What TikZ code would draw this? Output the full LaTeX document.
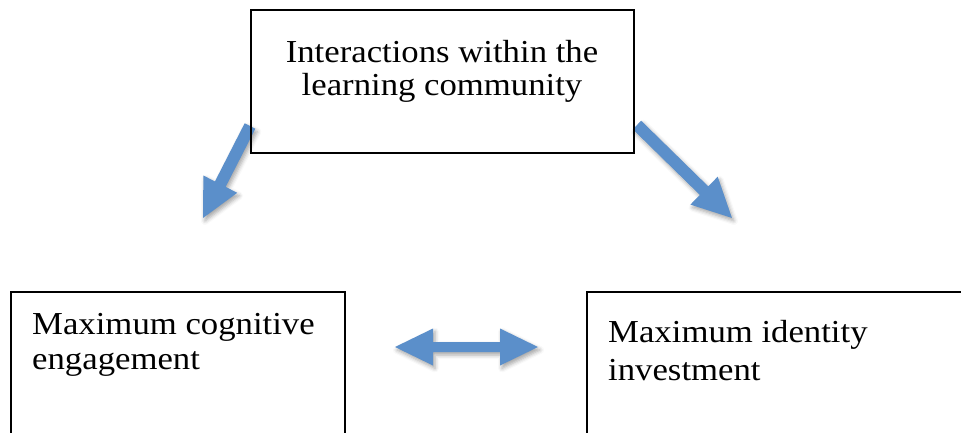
\documentclass[tikz,border=0pt]{standalone}
\usepackage{fontspec}
\setmainfont[FakeStretch=1.085]{Liberation Serif}
\usetikzlibrary{calc,shadows.blur}
\definecolor{arrowblue}{RGB}{91,143,202}
\tikzset{
  box/.style={draw=black, line width=1.3pt},
  lbl/.style={inner sep=0pt, font=\fontsize{32}{33}\selectfont},
  barrow/.style={fill=arrowblue, blur shadow={shadow xshift=2pt, shadow yshift=-3pt, shadow blur radius=4pt, shadow opacity=35}},
}
\newcommand\blockarrow[5]{%
  \path let \p1=($(#2)-(#1)$), \n1={veclen(\x1,\y1)}, \n2={atan2(\y1,\x1)} in
    \pgfextra{\xdef\arrlen{\n1}\xdef\arrang{\n2}};
  \fill[barrow, shift={(#1)}, rotate=\arrang]
    (0pt,-#3) -- (\arrlen-#4,-#3) -- (\arrlen-#4,-#5) -- (\arrlen,0pt)
    -- (\arrlen-#4,#5) -- (\arrlen-#4,#3) -- (0pt,#3) -- cycle;
}
\begin{document}
\begin{tikzpicture}[x=1pt,y=-1pt]
\useasboundingbox (0,0) rectangle (961,432);
\clip (0,0) rectangle (961,432);
% arrow end points
\coordinate (a1s) at (250,126);
\coordinate (a1e) at (203,218);
\coordinate (a2s) at (637,125);
\coordinate (a2e) at (732,218);
\coordinate (a3s) at (395,347);
\coordinate (a3e) at (538,347);
\blockarrow{a1s}{a1e}{6pt}{38pt}{19pt}
\blockarrow{a2s}{a2e}{6pt}{39pt}{19.5pt}
\fill[barrow] (a3s) -- ++(38,-18.5) -- ++(0,13.5) -- ($(a3e)+(-38,-5)$) -- ++(0,-13.5)
  -- (a3e) -- ++(-38,18.5) -- ++(0,-13.5) -- ($(a3s)+(38,5)$) -- ++(0,13.5) -- cycle;
% boxes
\draw[box] (251,10) rectangle (634,153);
\node[inner sep=0pt] (topbox) at (442.5,81.5) {};
\draw[box] (11,292) rectangle (345,445);
\node[inner sep=0pt] (leftbox) at (178,370) {};
\draw[box] (587,292) rectangle (975,445);
\node[inner sep=0pt] (rightbox) at (780,370) {};
% texts
\node[lbl, anchor=base] (t1) at (442,62) {Interactions within the};
\node[lbl, anchor=base] (t2) at (442,95) {learning community};
\node[lbl, anchor=base west] (l1) at (32,334) {Maximum cognitive};
\node[lbl, anchor=base west] (l2) at (32,369) {engagement};
\node[lbl, anchor=base west] (r1) at (608,342) {Maximum identity};
\node[lbl, anchor=base west] (r2) at (608,380) {investment};
\end{tikzpicture}
\end{document}
